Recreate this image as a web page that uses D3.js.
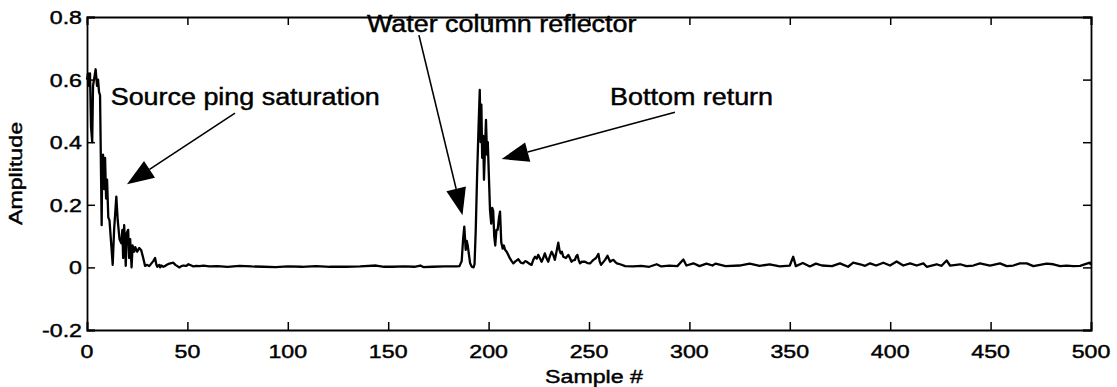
<!DOCTYPE html>
<html>
<head>
<meta charset="utf-8">
<script src="https://cdn.jsdelivr.net/npm/d3@7"></script>
<style>
  html, body { margin: 0; padding: 0; background: #fff; }
  svg { display: block; }
  text { font-family: "Liberation Sans", Arial, Helvetica, sans-serif; fill: #000; stroke: #000; stroke-width: 0.45px; }
</style>
</head>
<body>
<svg id="chart" width="1117" height="387"></svg>
<script>
// ---- data ----
const sampleIdx = [
  0, 0.5, 1, 1.5, 2, 2.6, 3, 3.5, 4.3, 5, 5.5, 6, 6.5, 7.3, 7.6, 8, 8.5, 9, 9.5, 10,
  10.6, 11.2, 12, 12.8, 13.5, 14.6, 15.3, 16.2, 17.1, 17.6, 18, 18.5, 19, 19.3, 19.8, 20.5, 21, 21.5, 22.2, 22.7,
  23.5, 24, 25, 26, 27, 28, 28.9, 30, 31, 32, 33, 33.9, 34.5, 35, 36, 36.4, 37, 38, 39, 40,
  41, 43, 44, 45, 46, 47, 48, 49.5, 50.5, 52, 53, 54.5, 56, 58, 61, 65, 70, 76, 82, 88,
  94, 100, 107, 114, 121, 129, 136, 144, 148, 152, 158, 163, 166, 167.5, 172, 178, 184, 185.5, 186.6, 187.3,
  187.9, 188.6, 189.1, 189.6, 190.8, 191.6, 192.5, 193, 193.6, 194.3, 195, 195.6, 196, 196.4, 196.8, 197.3, 197.7, 198.2, 198.7, 199.2,
  199.6, 200.1, 200.7, 201.3, 201.8, 202.3, 202.8, 203.3, 203.9, 204.5, 205.2, 205.7, 206.3, 207, 207.6, 208.2, 209, 209.8, 210.7, 211.5,
  212.3, 213.5, 214.8, 216, 217.3, 218.2, 219, 220.2, 221.4, 222.3, 223.1, 224, 224.7, 225.5, 226.4, 227.2, 228, 228.8, 229.7, 230.5,
  231.4, 232.2, 233, 233.8, 234.7, 235.3, 235.9, 236.5, 237.2, 238.5, 239.7, 240.5, 241.3, 242, 243, 243.6, 244.2, 244.8, 245.5, 246.5,
  248, 249.2, 250.5, 251.3, 252.2, 253.5, 254.7, 255.3, 256, 257, 258, 259.2, 260.5, 261.3, 262.2, 263, 263.9, 265.5, 268, 272,
  276, 280, 283.7, 286, 290, 294, 297, 298.5, 302, 305, 308.5, 311.5, 313, 318, 325, 330, 335, 340, 345, 350,
  351.7, 353, 356.5, 360, 363, 366, 371, 375, 379, 381.6, 385, 387.5, 390, 393, 396.6, 399.9, 403.2, 406.5, 409.9, 413.2,
  416.5, 418.2, 423.1, 425.6, 428.1, 429.8, 434.8, 438, 441.4, 444.7, 449.7, 454.7, 458, 461.3, 464.6, 468, 471.3, 474.6, 477.9, 481.3,
  484.6, 487.9, 491.2, 494.6, 497.9, 499.5, 500
];
const amplitude = [
  0.60, 0.62, 0.58, 0.62, 0.45, 0.40, 0.58, 0.60, 0.633, 0.58, 0.60, 0.56, 0.55, 0.135, 0.35, 0.36, 0.25, 0.35, 0.22, 0.28,
  0.16, 0.15, 0.08, 0.008, 0.12, 0.226, 0.15, 0.09, 0.077, 0.12, 0.03, 0.135, 0.06, 0.005, 0.11, 0.12, 0.03, 0.09, 0.0, 0.07,
  0.05, 0.065, 0.05, 0.062, 0.055, 0.03, 0.005, 0.008, 0.004, 0.012, 0.02, 0.03, 0.01, 0.002, 0.008, 0.0, 0.006, 0.002, 0.005, 0.009,
  0.012, 0.015, 0.008, 0.004, 0.0, 0.004, 0.006, 0.005, 0.01, 0.006, 0.003, 0.005, 0.004, 0.006, 0.003, 0.004, 0.002, 0.005, 0.003, 0.002,
  0.001, 0.003, 0.002, 0.004, 0.002, 0.002, 0.003, 0.006, 0.002, 0.002, 0.003, 0.002, 0.006, 0.001, 0.002, 0.003, 0.003, 0.004, 0.02, 0.09,
  0.13, 0.056, 0.085, 0.07, 0.013, 0.002, 0.0, 0.01, 0.12, 0.30, 0.45, 0.567, 0.40, 0.52, 0.35, 0.42, 0.28, 0.38, 0.471, 0.36,
  0.40, 0.30, 0.183, 0.14, 0.19, 0.18, 0.10, 0.07, 0.12, 0.12, 0.16, 0.178, 0.08, 0.06, 0.07, 0.056, 0.05, 0.04, 0.028, 0.02,
  0.013, 0.02, 0.026, 0.015, 0.013, 0.02, 0.018, 0.012, 0.008, 0.025, 0.034, 0.028, 0.04, 0.03, 0.018, 0.03, 0.045, 0.03, 0.018, 0.035,
  0.05, 0.04, 0.024, 0.05, 0.079, 0.055, 0.045, 0.05, 0.034, 0.03, 0.04, 0.03, 0.018, 0.022, 0.024, 0.035, 0.04, 0.025, 0.013, 0.018,
  0.018, 0.014, 0.013, 0.018, 0.024, 0.03, 0.043, 0.02, 0.008, 0.016, 0.024, 0.037, 0.018, 0.022, 0.024, 0.018, 0.013, 0.01, 0.004, 0.003,
  0.005, 0.002, 0.01, 0.003, 0.006, 0.004, 0.025, 0.006, 0.013, 0.004, 0.012, 0.006, 0.012, 0.004, 0.006, 0.012, 0.005, 0.01, 0.003, 0.006,
  0.034, 0.004, 0.014, 0.003, 0.012, 0.006, 0.004, 0.013, 0.002, 0.015, 0.01, 0.005, 0.013, 0.006, 0.015, 0.006, 0.019, 0.006, 0.013, 0.006,
  0.013, 0.002, 0.01, 0.005, 0.022, 0.006, 0.01, 0.004, 0.006, 0.013, 0.006, 0.013, 0.004, 0.006, 0.013, 0.013, 0.004, 0.008, 0.012, 0.01,
  0.004, 0.006, 0.004, 0.005, 0.012, 0.015, 0.008
];
const xTicks = [0, 50, 100, 150, 200, 250, 300, 350, 400, 450, 500];
const yTicks = [-0.2, 0, 0.2, 0.4, 0.6, 0.8];
const yTickLabels = ["-0.2", "0", "0.2", "0.4", "0.6", "0.8"];
const xLabel = "Sample #";
const yLabel = "Amplitude";
// annotation texts, their anchor (data units) and arrow start/tip (data units)
const noteTexts = ["Source ping saturation", "Water column reflector", "Bottom return"];
const noteAt = [[11.8, 0.519], [139.4, 0.752], [260.5, 0.519]];
const arrowFrom = [[73.7, 0.493], [165.3, 0.742], [292.8, 0.496]];
const arrowTo = [[19.9, 0.266], [187.0, 0.167], [206.5, 0.346]];

// ---- layout ----
const W = 1117, H = 387;
const m = { left: 87, right: 26, top: 17, bottom: 57 };
const x = d3.scaleLinear().domain([0, 500]).range([m.left, W - m.right]);
const y = d3.scaleLinear().domain([-0.2, 0.8]).range([H - m.bottom, m.top]);
const sx = 1.22; // horizontal stretch of the scanned lettering

const svg = d3.select("#chart");
svg.append("rect").attr("width", W).attr("height", H).attr("fill", "#fff");

const tickLen = 8;
const fontTick = 19;

// axes with inward ticks on all four sides
const axB = svg.append("g").attr("transform", `translate(0,${y(-0.2)})`)
  .call(d3.axisBottom(x).tickValues(xTicks).tickSize(-tickLen).tickFormat(""));
const axT = svg.append("g").attr("transform", `translate(0,${y(0.8)})`)
  .call(d3.axisTop(x).tickValues(xTicks).tickSize(-tickLen).tickFormat(""));
const axL = svg.append("g").attr("transform", `translate(${x(0)},0)`)
  .call(d3.axisLeft(y).tickValues(yTicks).tickSize(-tickLen).tickFormat(""));
const axR = svg.append("g").attr("transform", `translate(${x(500)},0)`)
  .call(d3.axisRight(y).tickValues(yTicks).tickSize(-tickLen).tickFormat(""));
[axB, axT, axL, axR].forEach(g => {
  g.selectAll("path.domain").attr("stroke", "#000").attr("stroke-width", 1.8);
  g.selectAll(".tick line").attr("stroke", "#000").attr("stroke-width", 1.5);
});

// tick labels
svg.append("g").selectAll("g").data(xTicks).join("g")
  .attr("transform", d => `translate(${x(d)},${y(-0.2) + 28}) scale(${sx},1)`)
  .append("text").attr("text-anchor", "middle").attr("font-size", fontTick)
  .text(d => String(d));
svg.append("g").selectAll("g").data(yTicks).join("g")
  .attr("transform", d => `translate(${x(0) - 5},${y(d) + 7}) scale(${sx},1)`)
  .append("text").attr("text-anchor", "end").attr("font-size", fontTick)
  .text((d, i) => yTickLabels[i]);

// axis titles
svg.append("g").attr("transform", `translate(${(x(0) + x(500)) / 2 + 5},${H - 4}) scale(${sx},1)`)
  .append("text").attr("text-anchor", "middle").attr("font-size", 19).text(xLabel);
svg.append("g").attr("transform", `translate(22,${(y(-0.2) + y(0.8)) / 2}) rotate(-90) scale(1.22,1)`)
  .append("text").attr("text-anchor", "middle").attr("font-size", 19).text(yLabel);

// signal
const pts = sampleIdx.map((s, i) => [s, amplitude[i]]);
svg.append("path").datum(pts)
  .attr("fill", "none").attr("stroke", "#000").attr("stroke-width", 2.3)
  .attr("stroke-linejoin", "round")
  .attr("d", d3.line().x(d => x(d[0])).y(d => y(d[1])));

// annotations
const headLen = 27, headHalf = 10;
noteTexts.forEach((t, i) => {
  svg.append("g").attr("transform", `translate(${x(noteAt[i][0])},${y(noteAt[i][1])}) scale(1.17,1)`)
    .append("text").attr("font-size", 23).text(t);
  const x0 = x(arrowFrom[i][0]), y0 = y(arrowFrom[i][1]);
  const x1 = x(arrowTo[i][0]), y1 = y(arrowTo[i][1]);
  const L = Math.hypot(x1 - x0, y1 - y0), ux = (x1 - x0) / L, uy = (y1 - y0) / L;
  const bx = x1 - ux * headLen, by = y1 - uy * headLen;
  svg.append("line").attr("x1", x0).attr("y1", y0).attr("x2", bx).attr("y2", by)
    .attr("stroke", "#000").attr("stroke-width", 1.6);
  svg.append("path")
    .attr("d", `M${x1},${y1}L${bx - uy * headHalf},${by + ux * headHalf}L${bx + uy * headHalf},${by - ux * headHalf}Z`)
    .attr("fill", "#000");
});
</script>
</body>
</html>
